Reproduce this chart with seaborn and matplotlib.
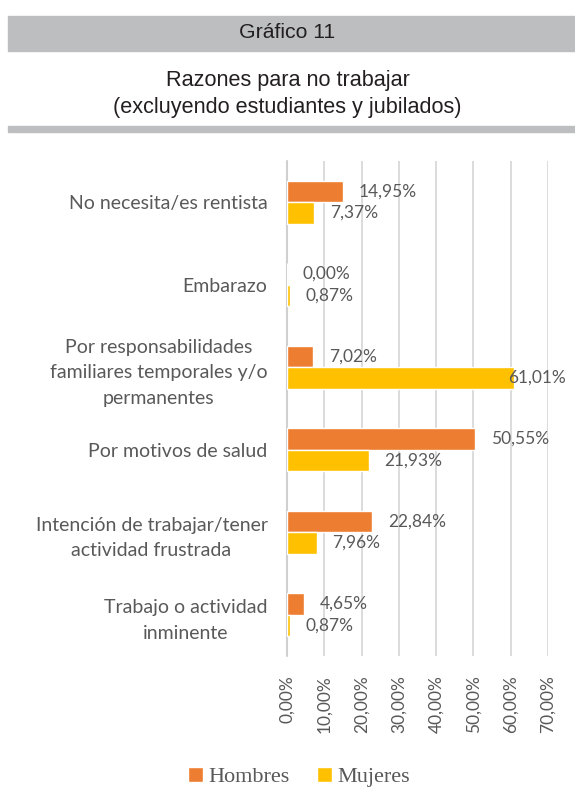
import pandas as pd
import numpy as np
import matplotlib
matplotlib.use('Agg')
import matplotlib.pyplot as plt
import seaborn as sns
from matplotlib.patches import Rectangle

# data
categorias = ["No necesita/es rentista",
              "Embarazo",
              "Por responsabilidades\nfamiliares temporales y/o\npermanentes",
              "Por motivos de salud",
              "Intención de trabajar/tener\nactividad frustrada",
              "Trabajo o actividad\ninminente"]
hombres = [14.95, 0.00, 7.02, 50.55, 22.84, 4.65]
mujeres = [7.37, 0.87, 61.01, 21.93, 7.96, 0.87]
xticks = [0, 10, 20, 30, 40, 50, 60, 70]

df = pd.DataFrame({
    'Razon': categorias * 2,
    'Valor': hombres + mujeres,
    'Sexo': ['Hombres'] * len(categorias) + ['Mujeres'] * len(categorias),
})

sns.set_style('white')
plt.rcParams['font.family'] = ['Lato', 'DejaVu Sans']

gris = '#595959'
fig = plt.figure(figsize=(5.75, 8.1), dpi=100)

# header bands
fig.patches.append(Rectangle((8/575, 1-51/810), 1, 35/810, transform=fig.transFigure,
                             color='#bcbec0', zorder=0))
fig.patches.append(Rectangle((8/575, 1-132/810), 1, 6/810, transform=fig.transFigure,
                             color='#bcbec0', zorder=0))
fig.text(0.5, 1-33/810, 'Gráfico 11', ha='center', va='center', fontsize=15.3,
         family='Liberation Sans', color='#231f20')
fig.text(0.5, 1-94/810, 'Razones para no trabajar\n(excluyendo estudiantes y jubilados)',
         ha='center', va='center', fontsize=15.6, family='Liberation Sans',
         color='#231f20', linespacing=1.35)

ax = fig.add_axes([287/575, 1-656/810, (548-287)/575, (656-161)/810])
sns.barplot(data=df, y='Razon', x='Valor', hue='Sexo', orient='h', width=0.52,
            palette={'Hombres': '#ED7D31', 'Mujeres': '#FFC000'},
            saturation=1, ax=ax, zorder=3)

ax.set_xlim(0, 70)
ax.set_xticks(xticks)
ax.set_xticklabels([f'{t:.2f}%'.replace('.', ',') for t in xticks],
                   rotation=90, fontsize=12.5, color=gris)
ax.tick_params(axis='x', length=0, pad=14)
ax.tick_params(axis='y', length=0, pad=14)
ax.set_yticklabels(categorias, fontsize=14, color=gris, ha='right',
                   multialignment='center', linespacing=1.6)
ax.set_xlabel('')
ax.set_ylabel('')
ax.grid(axis='x', color='#d9d9d9', linewidth=1.3, zorder=0)
ax.axvline(0, color='#d0d0d0', linewidth=1.5, zorder=2, clip_on=False)
for s in ax.spines.values():
    s.set_visible(False)

# value labels
for cont in ax.containers:
    for bar in cont:
        v = bar.get_width()
        y = bar.get_y() + bar.get_height() / 2
        x = min(v + 4.2, 59.4)
        ax.text(x, y, f'{v:.2f}%'.replace('.', ','), va='center', ha='left',
                fontsize=12.5, color=gris, zorder=5)

leg = ax.legend(loc='center', bbox_to_anchor=(299/575, 1-777/810),
                bbox_transform=fig.transFigure, ncol=2, frameon=False,
                prop={'family': 'Liberation Serif', 'size': 16},
                handlelength=0.7, handleheight=0.7, handletextpad=0.25,
                columnspacing=1.2)
for t in leg.get_texts():
    t.set_color(gris)

fig.savefig('out.png', dpi=100)
